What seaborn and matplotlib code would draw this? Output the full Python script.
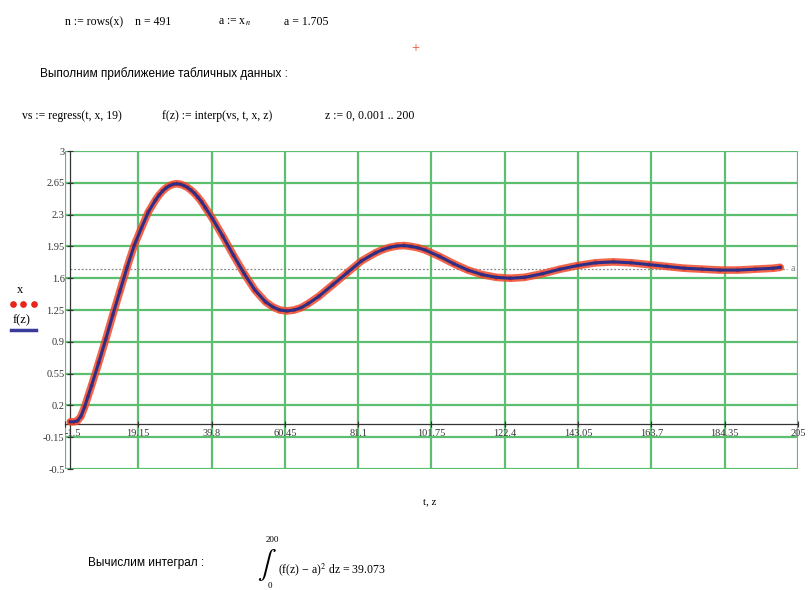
import matplotlib
matplotlib.use("Agg")
import matplotlib.pyplot as plt
import seaborn as sns
import pandas as pd
from matplotlib.lines import Line2D

t = [0, 1, 2, 3, 4, 5, 6, 8, 10, 12, 14, 16, 18, 20, 22, 24, 25, 26, 27, 28, 29,
     30, 31, 32, 33, 34, 35, 36, 37, 38, 40, 43, 46, 49, 52, 55, 57, 59, 61, 63,
     65, 67, 70, 74, 78, 82, 86, 88, 90, 92, 94, 96, 98, 100, 104, 108, 112, 116,
     120, 124, 128, 133, 138, 143, 148, 153, 158, 163, 168, 173, 178, 183, 188,
     193, 198, 200]
x = [0.02, 0.02, 0.03, 0.08, 0.18, 0.3, 0.42, 0.67, 0.93, 1.2, 1.46, 1.72, 1.96,
     2.15, 2.33, 2.46, 2.515, 2.56, 2.595, 2.62, 2.635, 2.64, 2.635, 2.62, 2.6,
     2.57, 2.535, 2.49, 2.44, 2.38, 2.26, 2.06, 1.85, 1.65, 1.47, 1.34, 1.285,
     1.25, 1.24, 1.25, 1.275, 1.32, 1.40, 1.53, 1.66, 1.79, 1.88, 1.915, 1.94,
     1.955, 1.96, 1.95, 1.935, 1.91, 1.84, 1.76, 1.69, 1.64, 1.61, 1.60, 1.61,
     1.65, 1.70, 1.74, 1.77, 1.78, 1.77, 1.75, 1.73, 1.71, 1.70, 1.69, 1.69,
     1.70, 1.71, 1.72]
a = 1.705

xticks = [-1.5, 19.15, 39.8, 60.45, 81.1, 101.75, 122.4, 143.05, 163.7, 184.35, 205]
xtick_labels = ["-1.5", "19.15", "39.8", "60.45", "81.1", "101.75", "122.4",
                "143.05", "163.7", "184.35", "205"]
yticks = [-0.5, -0.15, 0.2, 0.55, 0.9, 1.25, 1.6, 1.95, 2.3, 2.65, 3]
ytick_labels = ["-0.5", "-0.15", "0.2", "0.55", "0.9", "1.25", "1.6", "1.95",
                "2.3", "2.65", "3"]

df = pd.DataFrame({"t": t, "x": x})

plt.rcParams["font.family"] = ["Liberation Serif", "DejaVu Serif"]
plt.rcParams["mathtext.fontset"] = "stix"

fig = plt.figure(figsize=(8.08, 5.9), dpi=100)
ax = fig.add_axes([0.0804, 0.205, 0.9072, 0.539])

# red data points with a red band, then the regression curve on top
sns.lineplot(data=df, x="t", y="x", ax=ax, color="#f04a2a", lw=5.5, alpha=0.85,
             sort=False, zorder=3, solid_capstyle="round", solid_joinstyle="round")
sns.scatterplot(data=df, x="t", y="x", ax=ax, color="#ee3a22", s=12,
                edgecolor="none", zorder=4)
sns.lineplot(data=df, x="t", y="x", ax=ax, color="#2e2e86", lw=2.2,
             sort=False, zorder=5, solid_joinstyle="round")

ax.hlines(a, 0, 202, colors="#888888", linestyles=(0, (1.5, 1.5)), lw=0.9, zorder=2)
ax.text(203, a, "a", fontsize=7, color="#777777", va="center", ha="left")

ax.set_xlim(-1.5, 205)
ax.set_ylim(-0.5, 3)
ax.set_xticks(xticks)
ax.set_xticklabels(xtick_labels)
ax.set_yticks(yticks)
ax.set_yticklabels(ytick_labels)
ax.set_xlabel("")
ax.set_ylabel("")

ax.grid(True, color="#5cbf6f", lw=1.6)
ax.set_axisbelow(True)
for gl in ax.get_xgridlines() + ax.get_ygridlines():
    gl.set_clip_on(False)

for side in ["top", "right"]:
    ax.spines[side].set_visible(False)
ax.spines["left"].set_position(("data", 0))
ax.spines["bottom"].set_position(("data", 0))
ax.spines["left"].set_color("#333333")
ax.spines["bottom"].set_color("#333333")
ax.spines["left"].set_linewidth(0.9)
ax.spines["bottom"].set_linewidth(0.9)
ax.tick_params(axis="both", labelsize=7.5, colors="#333333", length=4,
               direction="inout", width=0.8, pad=2)
# first x label sits just right of the axis, as in the worksheet
ax.get_xticklabels()[0].set_horizontalalignment("left")

# legend drawn the Mathcad way
fig.text(0.021, 0.503, "x", fontsize=9)
fig.add_artist(Line2D([0.016, 0.029, 0.042], [0.484, 0.484, 0.484], ls="none",
                      marker="o", ms=3.8, color="#e8241a"))
fig.text(0.016, 0.452, "f(z)", fontsize=9)
fig.add_artist(Line2D([0.013, 0.044], [0.44, 0.44], color="#3b3b9b", lw=2.5))

# worksheet text around the plot
fig.text(0.08, 0.962, "n := rows(x)    n = 491", fontsize=8.5, va="center")
fig.text(0.27, 0.962, r"a := x$_n$", fontsize=8.5, va="center")
fig.text(0.352, 0.962, "a = 1.705", fontsize=8.5, va="center")
fig.text(0.514, 0.918, "+", fontsize=10, color="#e84b2a", ha="center", va="center")
fig.text(0.05, 0.876, "Выполним приближение табличных данных :", fontsize=8.5,
         family=["Liberation Sans", "DejaVu Sans"], va="center")
fig.text(0.027, 0.803, "vs := regress(t, x, 19)", fontsize=8.5, va="center")
fig.text(0.2, 0.803, "f(z) := interp(vs, t, x, z)", fontsize=8.5, va="center")
fig.text(0.402, 0.803, "z := 0, 0.001 .. 200", fontsize=8.5, va="center")
fig.text(0.532, 0.149, "t, z", fontsize=8, ha="center", va="center")
fig.text(0.109, 0.046, "Вычислим интеграл :", fontsize=8.5,
         family=["Liberation Sans", "DejaVu Sans"], va="center")

# integral written out like the Mathcad region
fig.text(0.318, 0.042, r"$\int$", fontsize=20, va="center")
fig.text(0.329, 0.085, "200", fontsize=6.5, va="center")
fig.text(0.331, 0.007, "0", fontsize=6.5, va="center")
fig.text(0.344, 0.034, r"(f(z) − a)$^{2}$ dz = 39.073", fontsize=8.5, va="center")

fig.savefig("out.png", dpi=100)
